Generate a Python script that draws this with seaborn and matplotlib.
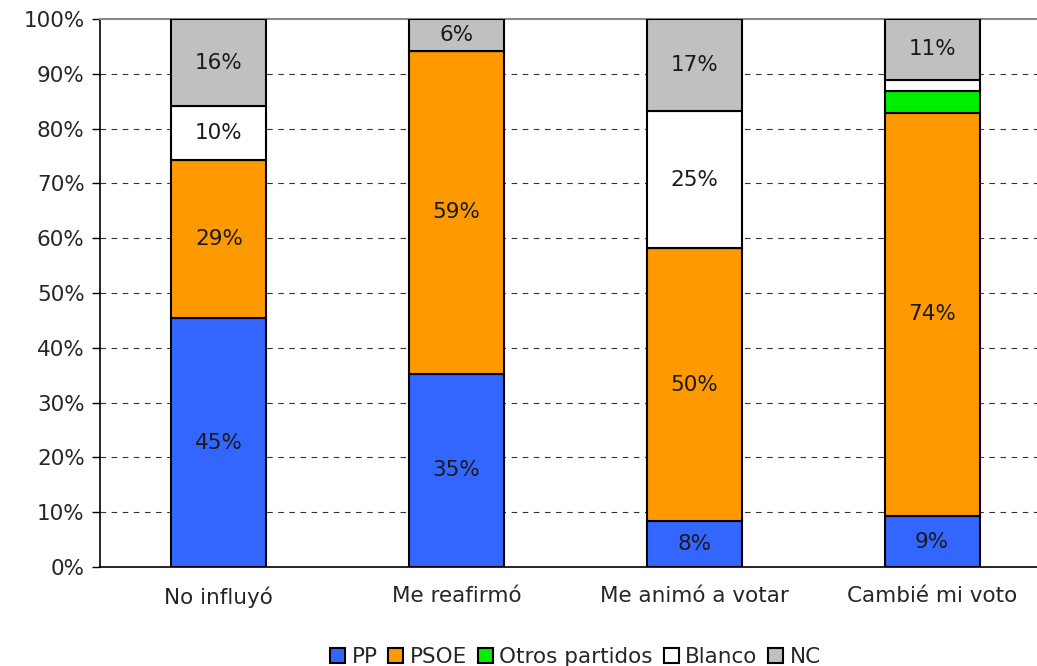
import matplotlib

matplotlib.use("Agg")
import matplotlib.pyplot as plt
import numpy as np
import pandas as pd
import seaborn as sns
from matplotlib.patches import Patch

# valores (porcentaje sobre el total de cada grupo)
categorias = ["No influyó", "Me reafirmó", "Me animó a votar", "Cambié mi voto"]
partidos = ["PP", "PSOE", "Otros partidos", "Blanco", "NC"]
pp = [45.4, 35.3, 8.4, 9.3]
psoe = [28.9, 58.9, 49.8, 73.6]
otros = [0.0, 0.0, 0.0, 4.0]
blanco = [9.8, 0.0, 25.0, 2.0]
nc = [15.9, 5.8, 16.8, 11.1]
colores = ["#3366ff", "#ff9900", "#00ee00", "#ffffff", "#c0c0c0"]

series = [pp, psoe, otros, blanco, nc]
FS = 15.5

sns.set_style("white")
plt.rcParams["font.family"] = ["DejaVu Sans"]

fig = plt.figure(figsize=(10.37, 6.66), dpi=100)
ax = fig.add_axes([100 / 1037, 99 / 666, 951 / 1037, 548 / 666])

bottom = np.zeros(len(categorias))
for nombre, valores, color in zip(partidos, series, colores):
    df = pd.DataFrame({"categoria": categorias, "valor": valores})
    sns.barplot(
        data=df, x="categoria", y="valor", color=color, saturation=1,
        width=0.4, bottom=bottom.copy(), edgecolor="black", linewidth=1.5,
        ax=ax, zorder=3,
    )
    cont = ax.containers[-1]
    etiquetas = [f"{round(v):d}%" if v >= 5 else "" for v in valores]
    ax.bar_label(cont, labels=etiquetas, label_type="center", fontsize=FS, color="#1a1a1a")
    bottom += np.array(valores)

ax.set_ylim(0, 100)
ax.set_xlim(-0.5, 3.5)
ax.set_yticks(np.arange(0, 101, 10))
ax.set_yticklabels([f"{v}%" for v in range(0, 101, 10)], fontsize=FS)
ax.set_xticks(range(len(categorias)))
ax.set_xticklabels(categorias, fontsize=FS)
ax.set_xticks(np.arange(-0.5, 4.0, 1.0), minor=True)
ax.tick_params(axis="x", which="major", length=0, pad=14)
ax.tick_params(axis="x", which="minor", length=6, width=1, color="black", direction="out")
ax.tick_params(axis="y", length=6, width=1, color="black", direction="out", left=True, pad=5)
ax.set_xlabel("")
ax.set_ylabel("")

for y in range(10, 100, 10):
    ax.axhline(y, color="#333333", linestyle=(0, (5, 5)), linewidth=0.8, zorder=1)

ax.spines["left"].set_color("black")
ax.spines["bottom"].set_color("black")
ax.spines["left"].set_linewidth(1.2)
ax.spines["bottom"].set_linewidth(1.2)
ax.spines["top"].set_color("#888888")
ax.spines["top"].set_linewidth(1.5)
ax.spines["right"].set_visible(False)

handles = [Patch(facecolor=c, edgecolor="black", linewidth=1.5, label=p) for p, c in zip(partidos, colores)]
fig.legend(
    handles=handles, loc="lower center", bbox_to_anchor=(0.555, -0.03), ncol=5, frameon=False,
    fontsize=FS, handlelength=0.7, handleheight=0.7, handletextpad=0.3, columnspacing=0.5,
)

fig.savefig("out.png", dpi=100)
